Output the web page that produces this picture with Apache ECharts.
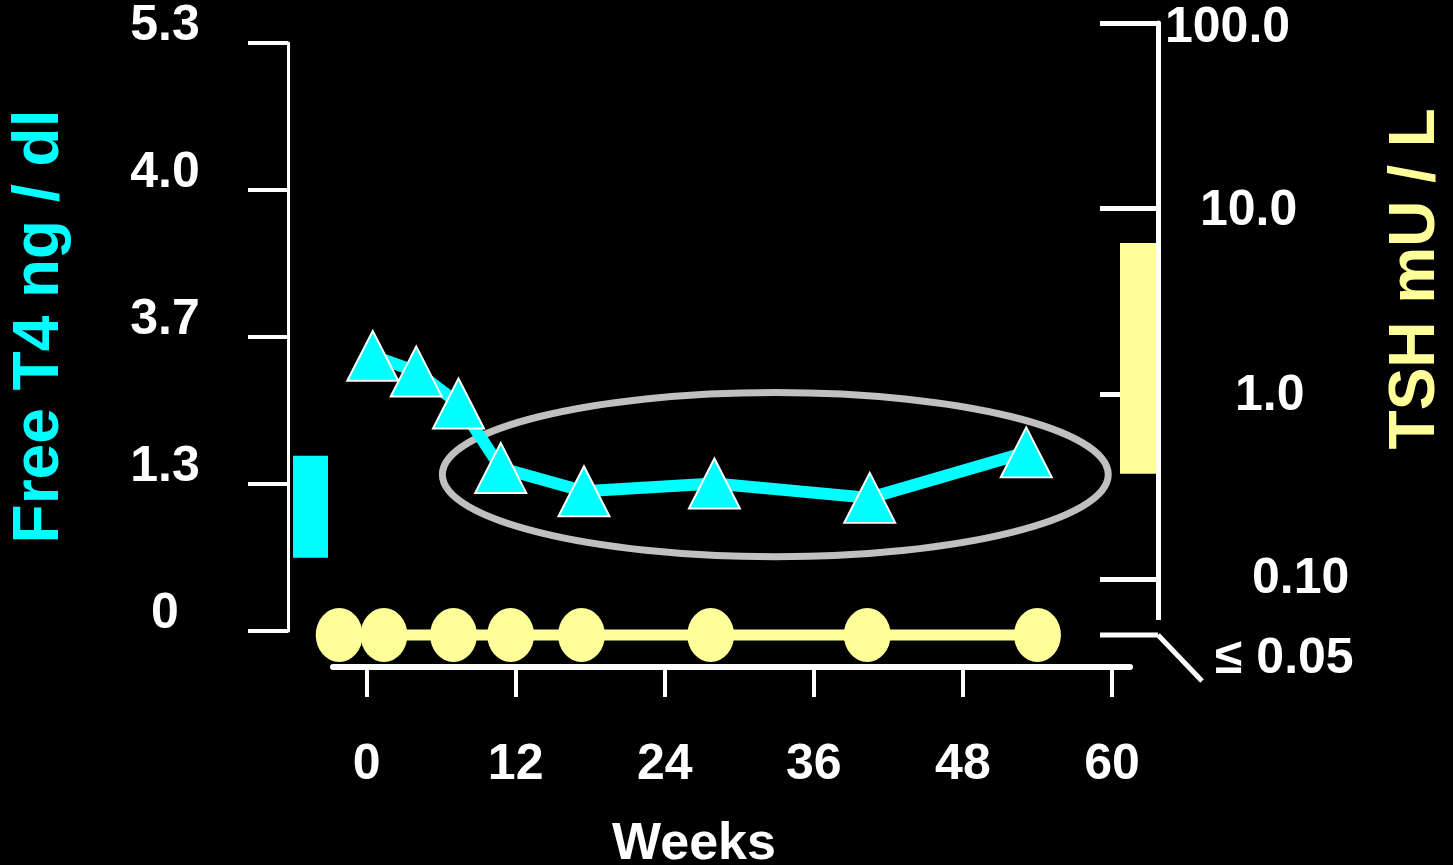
<!DOCTYPE html>
<html>
<head>
<meta charset="utf-8">
<script src="https://cdn.jsdelivr.net/npm/echarts@6/dist/echarts.min.js"></script>
<style>
  html, body { margin: 0; padding: 0; background: #000; }
  #chart { width: 1453px; height: 865px; }
</style>
</head>
<body>
<div id="chart"></div>
<script>
// Free T4 (ng/dl) during treatment, by week
const t4Weeks  = [0.5, 4.0, 7.4, 10.8, 17.5, 28.0, 40.5, 53.1];
const t4Values = [2.48, 2.34, 2.05, 1.47, 1.26, 1.33, 1.20, 1.61];

// TSH (mU/L), suppressed at or below the 0.05 detection limit
const tshWeeks  = [-2.2, 1.4, 7.0, 11.6, 17.3, 27.7, 40.3, 54.0];
const tshValues = [0.05, 0.05, 0.05, 0.05, 0.05, 0.05, 0.05, 0.05];

// reference ranges
const t4Normal  = [0.66, 1.58];
const tshNormal = [0.37, 6.5];

// axis ticks and labels
const weekTicks     = [0, 12, 24, 36, 48, 60];
const t4Max         = 5.3;
const t4TickLabels  = ['0', '1.3', '3.7', '4.0', '5.3'];
const tshTickValues = [0.05, 0.1, 1, 10, 100];
const tshTickLabels = ['≤ 0.05', '0.10', '1.0', '10.0', '100.0'];

// stable period highlighted with an ellipse (data units)
const plateau = { week: 32.9, t4: 1.41, halfWeeks: 26.8, halfT4: 0.74 };

const CYAN = '#00FFFF';
const YELLOW = '#FFFF99';
const WHITE = '#FFFFFF';
const FONT = "'Liberation Sans', Arial, Helvetica, sans-serif";

const t4TickValues = t4TickLabels.map((_, i) => i * t4Max / (t4TickLabels.length - 1));
const weekMin = -2.7, weekMax = 61.45;
// log axis floor sits a little under the detection limit (shown past an axis break)
const tshMin = 0.045, tshMax = 100;

const chart = echarts.init(document.getElementById('chart'), null, { renderer: 'canvas' });

function nearestIndex(values, v, useLog) {
  let best = 0, bestD = Infinity;
  values.forEach((t, i) => {
    const d = useLog ? Math.abs(Math.log10(t) - Math.log10(v)) : Math.abs(t - v);
    if (d < bestD) { bestD = d; best = i; }
  });
  return best;
}

const labelFont = { fontFamily: FONT, fontWeight: 'bold', fontSize: 50, color: WHITE, lineHeight: 50 };
const tshRich = {
  t1: Object.assign({ padding: [0, 0, 0, 87] }, labelFont),
  t2: Object.assign({ padding: [4, 0, 0, 70] }, labelFont),
  t3: Object.assign({ padding: [6, 0, 0, 35] }, labelFont),
  t4: Object.assign({ padding: [10, 0, 0, 0] }, labelFont)
};

const option = {
  backgroundColor: '#000',
  animation: false,
  grid: [
    { left: 333, right: 323, top: 43, bottom: 234, outerBoundsMode: 'none', containLabel: false },
    { left: 333, right: 323, top: 23, bottom: 221.5, outerBoundsMode: 'none', containLabel: false }
  ],
  xAxis: [
    {
      gridIndex: 0, type: 'value', min: weekMin, max: weekMax,
      position: 'bottom', offset: 36,
      axisLine: { show: true, onZero: false, lineStyle: { color: WHITE, width: 6 } },
      axisTick: { show: true, customValues: weekTicks, length: 30, lineStyle: { color: WHITE, width: 4 } },
      axisLabel: Object.assign({ customValues: weekTicks, margin: 73, hideOverlap: false }, labelFont),
      splitLine: { show: false },
      name: 'Weeks', nameLocation: 'middle', nameGap: 152,
      nameTextStyle: { fontFamily: FONT, fontWeight: 'bold', fontSize: 52, lineHeight: 52, color: WHITE, padding: [0, 75, 0, 0] }
    },
    { gridIndex: 1, type: 'value', min: weekMin, max: weekMax, show: false, axisLine: { onZero: false } }
  ],
  yAxis: [
    {
      gridIndex: 0, type: 'value', min: 0, max: t4Max, position: 'left', offset: 45,
      axisLine: { show: true, onZero: false, lineStyle: { color: WHITE, width: 3 } },
      axisTick: { show: true, customValues: t4TickValues, length: 40, lineStyle: { color: WHITE, width: 4 } },
      axisLabel: Object.assign({
        customValues: t4TickValues, margin: 123, align: 'center', hideOverlap: false,
        formatter: (v) => t4TickLabels[nearestIndex(t4TickValues, v, false)]
      }, labelFont, { verticalAlign: 'bottom', lineHeight: 34 }),
      splitLine: { show: false },
      name: 'Free T4 ng / dl', nameLocation: 'middle', nameGap: 216,
      nameTextStyle: { fontFamily: FONT, fontWeight: 'bold', fontSize: 64, lineHeight: 64, color: CYAN, padding: [0, 0, 0, 21] }
    },
    {
      gridIndex: 1, type: 'log', logBase: 10, min: tshMin, max: tshMax, position: 'right', offset: 28,
      axisLine: { show: true, onZero: false, lineStyle: { color: WHITE, width: 5 } },
      axisTick: { show: true, inside: true, length: 58, customValues: tshTickValues.slice(1), lineStyle: { color: WHITE, width: 5 } },
      axisLabel: Object.assign({
        margin: 7, align: 'left', customValues: tshTickValues.slice(1), hideOverlap: false,
        formatter: (v) => { const i = nearestIndex(tshTickValues, v, true); return '{t' + i + '|' + tshTickLabels[i] + '}'; },
        rich: tshRich
      }, labelFont),
      splitLine: { show: false },
      name: 'TSH mU / L', nameLocation: 'middle', nameGap: 226,
      nameTextStyle: { fontFamily: FONT, fontWeight: 'bold', fontSize: 64, lineHeight: 64, color: YELLOW, padding: [0, 0, 0, 109] }
    }
  ],
  series: [
    {
      // Free T4 reference range, drawn beside the left axis
      type: 'custom', xAxisIndex: 0, yAxisIndex: 0, clip: false, z: 1,
      data: [[t4Normal[0], t4Normal[1]]],
      dimensions: ['low', 'high'], encode: { y: [0, 1] },
      renderItem: (params, api) => {
        const cs = params.coordSys;
        const yLow = api.coord([weekMin, api.value(0)])[1];
        const yHigh = api.coord([weekMin, api.value(1)])[1];
        return { type: 'rect', shape: { x: cs.x - 40, y: yHigh, width: 35, height: yLow - yHigh }, style: { fill: CYAN } };
      }
    },
    {
      // TSH reference range, drawn against the right axis
      type: 'custom', xAxisIndex: 1, yAxisIndex: 1, clip: false, z: 1,
      data: [[tshNormal[0], tshNormal[1]]],
      dimensions: ['low', 'high'], encode: { y: [0, 1] },
      renderItem: (params, api) => {
        const cs = params.coordSys;
        const yLow = api.coord([weekMin, api.value(0)])[1];
        const yHigh = api.coord([weekMin, api.value(1)])[1];
        return { type: 'rect', shape: { x: cs.x + cs.width - 10, y: yHigh, width: 36, height: yLow - yHigh }, style: { fill: YELLOW } };
      }
    },
    {
      // ellipse marking the stable period
      type: 'custom', xAxisIndex: 0, yAxisIndex: 0, clip: false, z: 2,
      data: [[plateau.week, plateau.t4]],
      renderItem: (params, api) => {
        const c = api.coord([api.value(0), api.value(1)]);
        const rx = api.size([plateau.halfWeeks, 0])[0];
        const ry = api.size([0, plateau.halfT4])[1];
        return { type: 'ellipse', shape: { cx: c[0], cy: c[1], rx: rx, ry: ry }, style: { fill: 'none', stroke: '#C0C0C0', lineWidth: 7 } };
      }
    },
    {
      name: 'TSH', type: 'line', xAxisIndex: 1, yAxisIndex: 1, clip: false, z: 3,
      data: tshWeeks.map((w, i) => [w, tshValues[i]]),
      symbol: 'circle', symbolSize: [47, 54], showAllSymbol: true,
      lineStyle: { color: YELLOW, width: 11 },
      itemStyle: { color: YELLOW }
    },
    {
      name: 'Free T4', type: 'line', xAxisIndex: 0, yAxisIndex: 0, clip: false, z: 4,
      data: t4Weeks.map((w, i) => [w, t4Values[i]]),
      symbol: 'triangle', symbolSize: [51, 50], showAllSymbol: true,
      lineStyle: { color: CYAN, width: 12 },
      itemStyle: { color: CYAN, borderColor: WHITE, borderWidth: 2 }
    }
  ]
};

chart.setOption(option);

// detection-limit tick past the axis break, placed through the TSH scale
const base = chart.convertToPixel({ xAxisIndex: 1, yAxisIndex: 1 }, [weekMax, tshTickValues[0]]);
const floorY = chart.convertToPixel({ xAxisIndex: 1, yAxisIndex: 1 }, [weekMax, tshMin])[1];
const axisX = base[0] + 28;
const yBreak = base[1];
chart.setOption({
  graphic: [
    { type: 'rect', z: 100, shape: { x: axisX - 4, y: yBreak - 15, width: 8, height: floorY - yBreak + 18 }, style: { fill: '#000' } },
    { type: 'line', z: 101, shape: { x1: axisX - 58, y1: yBreak, x2: axisX, y2: yBreak }, style: { stroke: WHITE, lineWidth: 5 } },
    { type: 'line', z: 101, shape: { x1: axisX, y1: yBreak, x2: axisX + 44, y2: yBreak + 46 }, style: { stroke: WHITE, lineWidth: 5 } },
    {
      type: 'text', z: 101, x: axisX + 57, y: yBreak + 24,
      style: { text: tshTickLabels[0], fill: WHITE, font: 'bold 50px ' + FONT, textAlign: 'left', textVerticalAlign: 'middle' }
    }
  ]
});
</script>
</body>
</html>
